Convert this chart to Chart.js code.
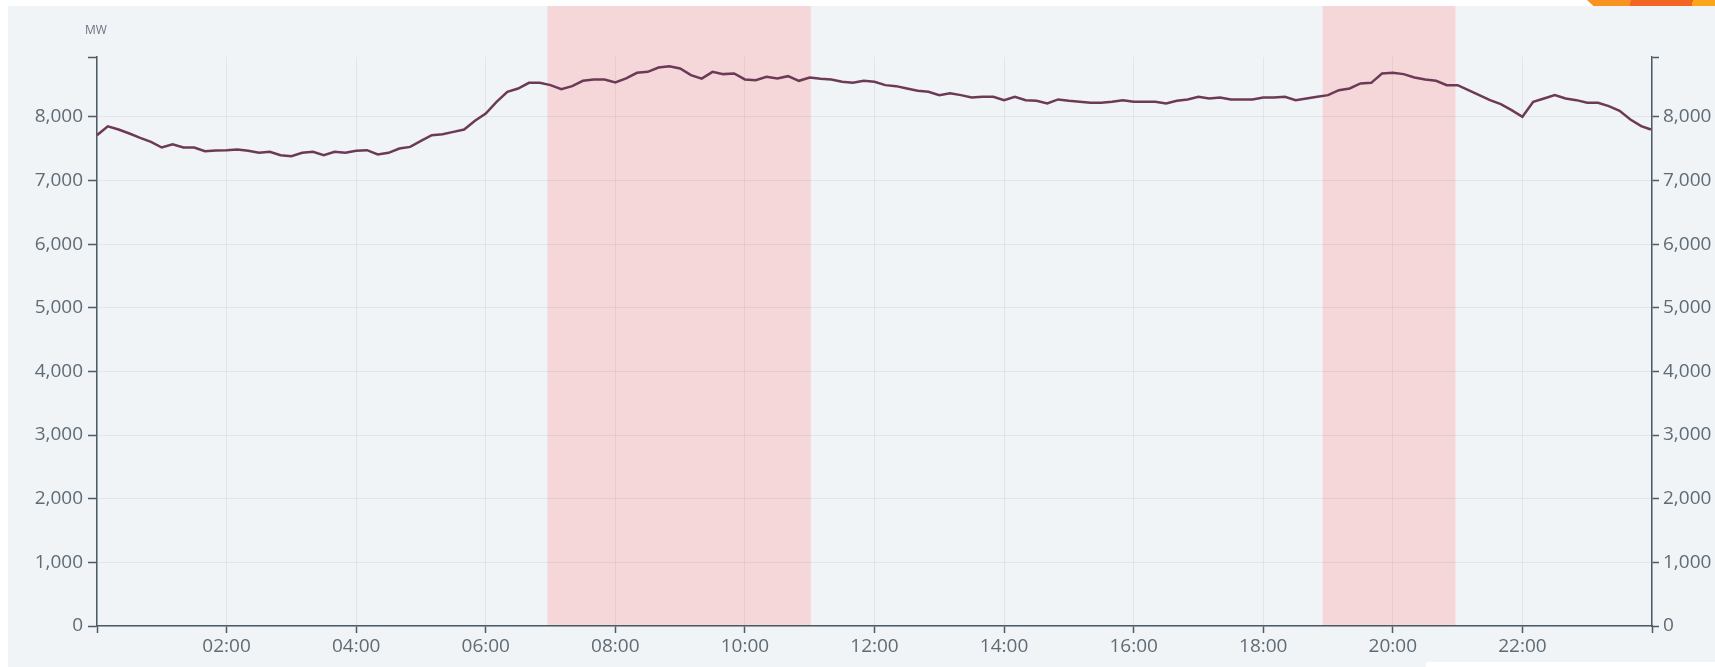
<!DOCTYPE html>
<html>
<head>
<meta charset="utf-8">
<title>System load</title>
<script src="https://cdn.jsdelivr.net/npm/chart.js@4.4.1/dist/chart.umd.min.js"></script>
<style>
  html, body { margin: 0; padding: 0; background: #fff; }
  body { width: 1715px; height: 667px; position: relative; overflow: hidden; }
  #panel { position: absolute; left: 8px; top: 6px; width: 1707px; height: 661px; background: #f0f4f7; }
  #logo {
    position: absolute; left: 1587px; top: 0; width: 128px; height: 6px;
    background: linear-gradient(100deg, #f7931e 0 34%, #f26522 34% 82%, #fba51c 82%);
    clip-path: polygon(0 0, 100% 0, 100% 100%, 5% 100%);
  }
  #foot { position: absolute; left: 1426px; top: 662px; width: 289px; height: 5px; background: #fff; }
</style>
</head>
<body>
<div id="panel"><canvas id="loadChart"></canvas></div>
<div id="logo"></div>
<div id="foot"></div>
<script>
const TIMES = [
  "00:00", "00:10", "00:20", "00:30", "00:40", "00:50", "01:00", "01:10", "01:20", "01:30", "01:40", "01:50",
  "02:00", "02:10", "02:20", "02:30", "02:40", "02:50", "03:00", "03:10", "03:20", "03:30", "03:40", "03:50",
  "04:00", "04:10", "04:20", "04:30", "04:40", "04:50", "05:00", "05:10", "05:20", "05:30", "05:40", "05:50",
  "06:00", "06:10", "06:20", "06:30", "06:40", "06:50", "07:00", "07:10", "07:20", "07:30", "07:40", "07:50",
  "08:00", "08:10", "08:20", "08:30", "08:40", "08:50", "09:00", "09:10", "09:20", "09:30", "09:40", "09:50",
  "10:00", "10:10", "10:20", "10:30", "10:40", "10:50", "11:00", "11:10", "11:20", "11:30", "11:40", "11:50",
  "12:00", "12:10", "12:20", "12:30", "12:40", "12:50", "13:00", "13:10", "13:20", "13:30", "13:40", "13:50",
  "14:00", "14:10", "14:20", "14:30", "14:40", "14:50", "15:00", "15:10", "15:20", "15:30", "15:40", "15:50",
  "16:00", "16:10", "16:20", "16:30", "16:40", "16:50", "17:00", "17:10", "17:20", "17:30", "17:40", "17:50",
  "18:00", "18:10", "18:20", "18:30", "18:40", "18:50", "19:00", "19:10", "19:20", "19:30", "19:40", "19:50",
  "20:00", "20:10", "20:20", "20:30", "20:40", "20:50", "21:00", "21:10", "21:20", "21:30", "21:40", "21:50",
  "22:00", "22:10", "22:20", "22:30", "22:40", "22:50", "23:00", "23:10", "23:20", "23:30", "23:40", "23:50",
  "23:59",
];

// MW, every 10 minutes
const LOAD_MW = [
  7712, 7850, 7800, 7738, 7670, 7607, 7518, 7570, 7518, 7518, 7460, 7470,
  7476, 7487, 7466, 7434, 7450, 7397, 7382, 7434, 7450, 7397, 7450, 7434,
  7466, 7476, 7408, 7434, 7502, 7528, 7623, 7712, 7728, 7764, 7801, 7937,
  8052, 8236, 8393, 8445, 8534, 8534, 8498, 8435, 8482, 8566, 8587, 8587,
  8540, 8603, 8692, 8707, 8775, 8796, 8760, 8655, 8600, 8707, 8671, 8681,
  8587, 8576, 8629, 8603, 8639, 8566, 8618, 8597, 8587, 8550, 8534, 8566,
  8550, 8498, 8482, 8445, 8409, 8393, 8341, 8372, 8341, 8304, 8315, 8315,
  8262, 8315, 8262, 8252, 8210, 8273, 8252, 8236, 8220, 8220, 8236, 8262,
  8236, 8236, 8236, 8210, 8252, 8273, 8315, 8288, 8304, 8273, 8273, 8273,
  8304, 8304, 8315, 8262, 8288, 8315, 8341, 8419, 8445, 8524, 8534, 8681,
  8692, 8671, 8618, 8587, 8566, 8498, 8498, 8419, 8341, 8262, 8199, 8105,
  8000, 8236, 8288, 8341, 8288, 8262, 8220, 8220, 8168, 8094, 7958, 7853,
  7801,
];

// shaded peak periods
const BANDS_FROM = ["06:57", "18:55"];
const BANDS_TO = ["11:01", "20:58"];

const X_TICK_LABELS = ["", "02:00", "04:00", "06:00", "08:00", "10:00", "12:00",
  "14:00", "16:00", "18:00", "20:00", "22:00", ""];

const Y_MAX = 8940;
const Y_TICKS = [0, 1000, 2000, 3000, 4000, 5000, 6000, 7000, 8000, Y_MAX];

const LINE = "#6d3a56";
const AXIS = "#4d5b66";
const GRID = "rgba(60,75,90,0.08)";
const BAND = "#f5d7da";
const LABEL = "#5f6b75";
const FONT = { family: "'Open Sans', sans-serif", size: 19 };

function toMinutes(hhmm) {
  const [h, m] = hhmm.split(":").map(Number);
  return h * 60 + m;
}

const bandPlugin = {
  id: "peakBands",
  beforeDraw(chart) {
    const { ctx, chartArea, scales } = chart;
    ctx.save();
    ctx.fillStyle = BAND;
    BANDS_FROM.forEach((from, i) => {
      const x0 = scales.x.getPixelForValue(toMinutes(from));
      const x1 = scales.x.getPixelForValue(toMinutes(BANDS_TO[i]));
      ctx.fillRect(x0, 0, x1 - x0, chartArea.bottom);
    });
    ctx.restore();
  },
};

const unitPlugin = {
  id: "unitLabel",
  afterDraw(chart) {
    const { ctx, chartArea } = chart;
    ctx.save();
    ctx.font = "12px 'Open Sans', sans-serif";
    ctx.fillStyle = "#6a7580";
    ctx.textAlign = "center";
    ctx.textBaseline = "middle";
    ctx.fillText("MW", chartArea.left - 1, chartArea.top - 26);
    ctx.restore();
  },
};

const isLabelled = (v) => v !== Y_MAX;

function yAxis(position, tickLength, padding, width) {
  return {
    position,
    min: 0,
    max: Y_MAX,
    afterBuildTicks: (s) => { s.ticks = Y_TICKS.map((value) => ({ value })); },
    ticks: {
      color: LABEL,
      font: FONT,
      padding,
      callback: (v) => (isLabelled(v) ? v.toLocaleString("en-US") : ""),
    },
    grid: {
      drawOnChartArea: position === "left",
      color: (c) => (c.tick && !isLabelled(c.tick.value) ? "transparent" : GRID),
      tickColor: AXIS,
      tickLength,
      tickWidth: 1.5,
    },
    border: { color: AXIS, width: 1.5 },
    afterFit: (s) => { s.width = width; },
  };
}

const points = TIMES.map((t, i) => ({ x: toMinutes(t), y: LOAD_MW[i] }));

new Chart(document.getElementById("loadChart"), {
  type: "line",
  data: {
    datasets: [
      {
        data: points,
        borderColor: LINE,
        borderWidth: 2.5,
        pointRadius: 0,
        tension: 0,
        yAxisID: "y",
      },
    ],
  },
  options: {
    responsive: true,
    maintainAspectRatio: false,
    animation: false,
    layout: { padding: { top: 51, left: 0, right: 0, bottom: 0 } },
    plugins: { legend: { display: false }, tooltip: { enabled: false } },
    scales: {
      x: {
        type: "linear",
        min: 0,
        max: 1440,
        ticks: {
          stepSize: 120,
          autoSkip: false,
          maxRotation: 0,
          padding: 2,
          color: LABEL,
          font: FONT,
          callback: (v, i) => X_TICK_LABELS[i] ?? "",
        },
        grid: { color: GRID, tickColor: AXIS, tickLength: 7, tickWidth: 1.5 },
        border: { color: AXIS, width: 1.5 },
        afterFit: (s) => { s.height = 41; },
      },
      y: yAxis("left", 9, 5, 89),
      y2: yAxis("right", 7, 4, 63),
    },
  },
  plugins: [bandPlugin, unitPlugin],
});
</script>
</body>
</html>
